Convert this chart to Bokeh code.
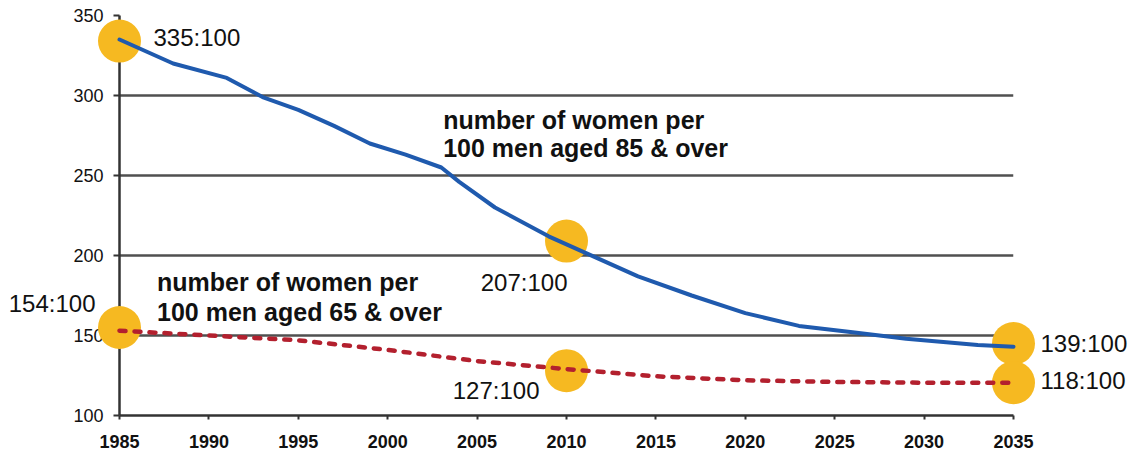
from bokeh.plotting import figure
from bokeh.models import Range1d, Label, FixedTicker, ColumnDataSource
from bokeh.core.properties import value
from bokeh.embed import file_html
from bokeh.resources import INLINE

# ---- data ----
years_85 = [1985, 1988, 1991, 1993, 1995, 1997, 1999, 2001, 2003, 2004, 2006,
            2009, 2011, 2014, 2017, 2020, 2023, 2026, 2029, 2033, 2035]
ratio_85 = [335, 320, 311, 299, 291, 281, 270, 263, 255, 246, 230,
            212, 202, 187, 175, 164, 156, 152, 148, 144, 143]

years_65 = [1985, 1990, 1995, 2000, 2005, 2010, 2015, 2020, 2025, 2030, 2035]
ratio_65 = [153, 150, 147, 141, 134, 129, 124.5, 122, 121, 120.5, 120.5]

marker_years = [1985, 1985, 2010, 2010, 2035, 2035]
marker_values = [334, 155, 209, 128, 145, 120.5]
marker_texts = ["335:100", "154:100", "207:100", "127:100", "139:100", "118:100"]

x_ticks = [1985, 1990, 1995, 2000, 2005, 2010, 2015, 2020, 2025, 2030, 2035]
y_ticks = [100, 150, 200, 250, 300, 350]

label_85 = ["number of women per", "100 men aged 85 & over"]
label_65 = ["number of  women per", "100 men aged 65 & over"]

FONT = "Liberation Sans"
BLUE = "#1f5aae"
RED = "#b3202e"
ORANGE = "#f6b921"

p = figure(width=1128, height=453,
           x_range=Range1d(1985, 2035), y_range=Range1d(100, 350),
           min_border_left=119, min_border_right=115,
           min_border_top=15, min_border_bottom=38,
           output_backend="svg", toolbar_location=None)
p.outline_line_color = None
p.background_fill_color = "white"
p.border_fill_color = "white"

p.xgrid.visible = False
p.ygrid.grid_line_color = "#505050"
p.ygrid.grid_line_width = 2.5
p.ygrid.ticker = FixedTicker(ticks=y_ticks)

p.xaxis.ticker = FixedTicker(ticks=x_ticks)
p.yaxis.ticker = FixedTicker(ticks=y_ticks)
for ax in (p.xaxis[0], p.yaxis[0]):
    ax.axis_line_color = "#333333"
    ax.axis_line_width = 2.5
    ax.major_tick_line_color = "#333333"
    ax.major_tick_line_width = 2
    ax.major_tick_in = 0
    ax.minor_tick_line_color = None
    ax.major_label_text_font = FONT
    ax.major_label_text_color = "#111111"
p.yaxis.major_tick_out = 6
p.yaxis.major_label_standoff = 10
p.yaxis.major_label_text_font_size = "18px"
p.xaxis.major_tick_out = 4
p.xaxis.major_label_standoff = 15
p.xaxis.major_label_text_font_size = "18px"
p.xaxis.major_label_text_font_style = "bold"

# markers (under the lines, over the axes)
p.scatter(marker_years, marker_values, size=43, marker="circle",
          fill_color=ORANGE, line_color=None, level="overlay")

p.line(years_85, ratio_85, line_color=BLUE, line_width=4, line_join="round",
       line_cap="round", level="overlay")
p.line(years_65, ratio_65, line_color=RED, line_width=4.5, line_dash="6 9",
       line_cap="round", level="overlay")

# ratio labels (text glyphs, offsets in screen px; positive dy = down)
dx = [34, -24, 1, -27, 27, 27]
dy = [-4, -24, 41, 20, 0, -2]
align = ["left", "right", "right", "right", "left", "left"]
src = ColumnDataSource(dict(x=marker_years, y=marker_values, t=marker_texts,
                            dx=dx, dy=dy, al=align))
p.text(x="x", y="y", text="t", x_offset="dx", y_offset="dy", text_align="al",
       text_baseline="middle", text_font=value(FONT), text_font_size="24px",
       text_color="#111111", source=src, level="overlay")

# series descriptions
for t, y in zip(label_85, [285, 267.5]):
    p.add_layout(Label(x=2003.1, y=y, text=t, text_align="left",
                       text_baseline="alphabetic", text_font=FONT,
                       text_font_size="25px", text_font_style="bold",
                       text_color="#111111"))
for t, y in zip(label_65, [183.5, 164.5]):
    p.add_layout(Label(x=1987.1, y=y, text=t, text_align="left",
                       text_baseline="alphabetic", text_font=FONT,
                       text_font_size="25px", text_font_style="bold",
                       text_color="#111111"))

open("out.html", "w").write(file_html(p, INLINE))
